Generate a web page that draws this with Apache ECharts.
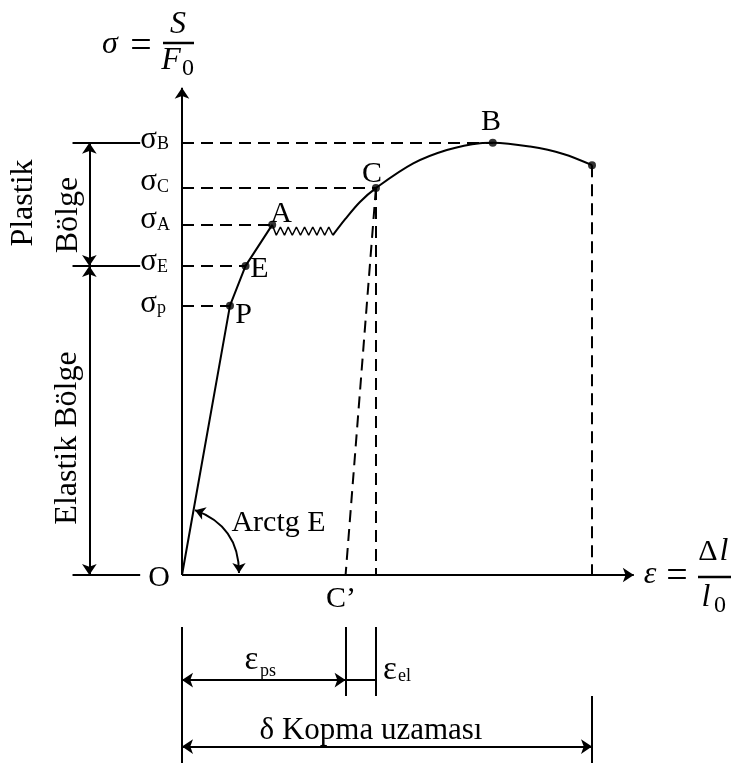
<!DOCTYPE html>
<html><head><meta charset="utf-8">
<script src="https://cdn.jsdelivr.net/npm/echarts@6/dist/echarts.min.js"></script>
<style>html,body{margin:0;padding:0;background:#fff}#c{width:731px;height:769px}</style>
</head><body><div id="c"></div>
<script>
// ---------------- data (ε: % of break elongation, σ: % of σB) ----------------
const elasticPath   = [[0,0],[11.7,62.3],[15.5,71.5],[22.0,81.0]];
const yieldZigzag   = [[22.0,81.0],[23.0,78.6],[24.0,80.5],[25.0,78.6],[25.9,80.5],[26.9,78.6],[27.9,80.5],[28.9,78.6],[29.9,80.5],[30.9,78.6],[31.9,80.5],[32.9,78.6],[33.8,80.5],[34.8,78.6],[35.8,80.5],[36.8,78.6]];
const hardeningCurve= [[36.8,78.6],[39.8,82.3],[43.4,86.3],[47.3,89.5],[56.4,95.2],[64.6,98.3],[72.7,99.9],[75.8,100],[84.9,99.1],[93.0,97.4],[100,94.8]];
const pointNames    = ['P','E','A','C','B','R'];
const pointEps      = [11.7,15.5,22.0,47.3,75.8,100];
const pointSig      = [62.3,71.5,81.0,89.5,100,94.8];
const sigmaSubs     = ['B','C','A','E','p'];
const sigmaLevels   = [100,89.5,81.0,71.5,62.3];
const sigmaReachEps = [75.8,47.3,22.0,15.5,11.7];
const unloadStart   = [47.3,89.5];   // C
const unloadEnd     = [39.9,0];      // C'
const breakPoint    = [100,94.8];
const axisEnds      = [110.2,112.7]; // ε-axis tip, σ-axis tip

// ---------------- layout ----------------
const W=731,H=769, OX=182, OY=575, PXE=4.1, PXS=4.323;
const FONT='"Liberation Serif","Times New Roman",serif';
const INK='#000';

const lv = (a,b)=>({coords:[a,b]});
const elastEnd = sigmaLevels[3], sB = sigmaLevels[0];
const tickL=-26.7, tickR=-10.2, arrX=-22.6;
const dimTop=-12.0, dimMid=-28.0, dimBot=-43.5, dimPs=-24.3, dimDelta=-39.7;

const dashed=[], solidPlain=[], dbl=[], single=[];
sigmaLevels.forEach((s,i)=>dashed.push(lv([0,s],[sigmaReachEps[i],s])));
dashed.push(lv(unloadStart,[unloadStart[0],0]));
dashed.push(lv(unloadStart,unloadEnd));
dashed.push(lv(breakPoint,[breakPoint[0],0]));
[sB, elastEnd, 0].forEach(s=>solidPlain.push(lv([tickL,s],[tickR,s])));
solidPlain.push(lv([0,dimTop],[0,dimBot]));
solidPlain.push(lv([unloadEnd[0],dimTop],[unloadEnd[0],dimMid]));
solidPlain.push(lv([unloadStart[0],dimTop],[unloadStart[0],dimMid]));
solidPlain.push(lv([breakPoint[0],dimMid],[breakPoint[0],dimBot]));
solidPlain.push(lv([unloadEnd[0],dimPs],[unloadStart[0],dimPs]));
dbl.push(lv([arrX,elastEnd],[arrX,sB]));
dbl.push(lv([arrX,0],[arrX,elastEnd]));
dbl.push(lv([0,dimPs],[unloadEnd[0],dimPs]));
dbl.push(lv([0,dimDelta],[breakPoint[0],dimDelta]));
single.push(lv([0,0],[axisEnds[0],0]));
single.push(lv([0,0],[0,axisEnds[1]]));
const arc=[lv([3.17,15.0],[13.9,0.46])];

function T(text,x,y,size,extra){
  return Object.assign({type:'text',x:x,y:y,silent:true,z:50,
    style:Object.assign({text:text,font:(extra&&extra.italic?'italic ':'')+size+'px '+FONT,fill:INK,
      align:'center',verticalAlign:'middle',textAlign:'center',textVerticalAlign:'middle'},extra&&extra.style||{})},
    extra&&extra.rot!==undefined?{rotation:extra.rot}:{});
}
const sigCY=[141,183.5,221.5,263.5,305];
const graphics=[];
sigmaSubs.forEach((s,i)=>{
  graphics.push(T('σ',148.5,sigCY[i]-1.5,31));
  graphics.push(T(s,157,sigCY[i]+3.5,18,{style:{align:'left',textAlign:'left'}}));
});
// point labels
const labPos={P:[243.5,314],E:[259.5,268],A:[281,213],C:[372,173],B:[491,121]};
Object.keys(labPos).forEach(k=>graphics.push(T(k,labPos[k][0],labPos[k][1]+1,30)));
graphics.push(T('O',159,578,30));
graphics.push(T('C\u2019',341,599,30));
graphics.push(T('Arctg E',278.5,523.5,30));
graphics.push(T('Plastik',24,203,32,{rot:Math.PI/2}));
graphics.push(T('Bölge',69,215,32,{rot:Math.PI/2}));
graphics.push(T('Elastik Bölge',68,438,32,{rot:Math.PI/2}));
graphics.push(T('δ Kopma uzaması',371,731,31));
graphics.push(T('ε',251.5,660,33));
graphics.push(T('ps',260,671,18,{style:{align:'left',textAlign:'left'}}));
graphics.push(T('ε',390,670,33));
graphics.push(T('el',398,676,18,{style:{align:'left',textAlign:'left'}}));
// formulas
graphics.push(T('σ',110,45,32,{italic:true}));
graphics.push(T('=',141,47,38));
graphics.push(T('S',178,25,32,{italic:true}));
graphics.push({type:'line',silent:true,shape:{x1:163,y1:43,x2:194,y2:43},style:{stroke:INK,lineWidth:2.5}});
graphics.push(T('F',171,61,32,{italic:true}));
graphics.push(T('0',188,69,24));
graphics.push(T('ε',650,575,32,{italic:true}));
graphics.push(T('=',677,577,38));
graphics.push(T('Δ',708,552,30));
graphics.push(T('l',724,552,32,{italic:true}));
graphics.push({type:'line',silent:true,shape:{x1:698,y1:577,x2:731,y2:577},style:{stroke:INK,lineWidth:2.5}});
graphics.push(T('l',706,598,32,{italic:true}));
graphics.push(T('0',720,606,24));

const lineBase={type:'line',showSymbol:false,silent:true,animation:false,clip:false};
const linesBase={type:'lines',coordinateSystem:'cartesian2d',silent:true,animation:false,polyline:false,effect:{show:false}};

const chart=echarts.init(document.getElementById('c'),null,{renderer:'canvas'});
chart.setOption({
  backgroundColor:'#fff',animation:false,
  grid:{left:0,right:0,top:0,bottom:0,containLabel:false},
  xAxis:{type:'value',min:-OX/PXE,max:(W-OX)/PXE,show:false},
  yAxis:{type:'value',min:-(H-OY)/PXS,max:OY/PXS,show:false},
  series:[
    Object.assign({},lineBase,{data:elasticPath,lineStyle:{color:INK,width:2}}),
    Object.assign({},lineBase,{data:yieldZigzag,lineStyle:{color:INK,width:1.5}}),
    Object.assign({},lineBase,{data:hardeningCurve,smooth:0.35,lineStyle:{color:INK,width:2}}),
    {type:'scatter',silent:true,animation:false,symbolSize:8,itemStyle:{color:INK},
      data:pointEps.map((e,i)=>({name:pointNames[i],value:[e,pointSig[i]]})),z:6},
    Object.assign({},linesBase,{data:dashed,lineStyle:{color:INK,width:2,type:[12,7],opacity:1}}),
    Object.assign({},linesBase,{data:solidPlain,lineStyle:{color:INK,width:2,opacity:1}}),
    Object.assign({},linesBase,{data:single,symbol:['none','arrow'],symbolSize:11,lineStyle:{color:INK,width:2,opacity:1}}),
    Object.assign({},linesBase,{data:dbl,symbol:['arrow','arrow'],symbolSize:11,lineStyle:{color:INK,width:2,opacity:1}}),
    Object.assign({},linesBase,{data:arc,symbol:['arrow','arrow'],symbolSize:10,lineStyle:{color:INK,width:2,opacity:1,curveness:0.35}})
  ],
  graphic:graphics
});
</script></body></html>
